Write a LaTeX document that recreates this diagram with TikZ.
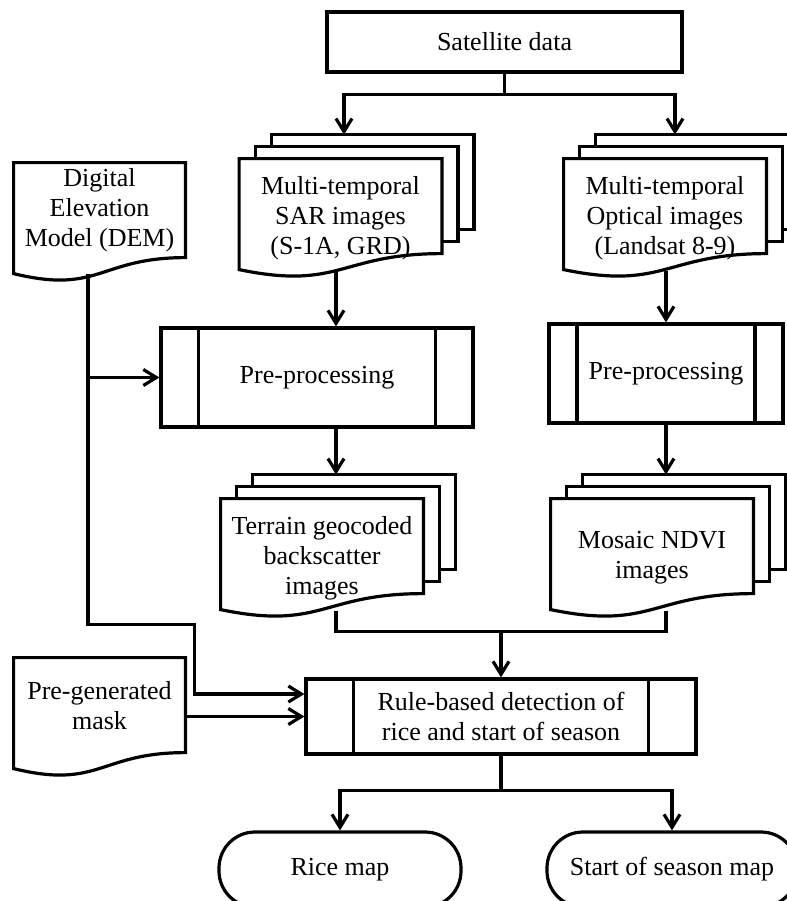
\documentclass[tikz,border=0pt]{standalone}
\usepackage{fontspec}
\setmainfont{Liberation Serif}
\usepackage{tikz}
\usetikzlibrary{arrows.meta,calc}
\tikzset{
    wire/.style={line width=1.6pt},
    plainbox/.style={draw, wire, inner sep=2pt, align=center},
    process/.style={plainbox, minimum height=49.5pt},
    docnode/.style={inner sep=2pt, align=center, minimum width=85.5pt, minimum height=47.5pt},
    stacknode/.style={inner sep=2pt, align=center, minimum width=101pt, minimum height=59pt},
    terminal/.style={plainbox, rounded corners=18pt, minimum height=37.5pt},
    flow/.style={wire, -{Straight Barb[length=6.5pt, width=8pt]}}
}
% document shape with a wavy lower edge
\newcommand{\wavyoutline}[1]{%
    \draw[wire] (#1.north west) -- (#1.north east) -- ($(#1.north east)+(0,95)$)
        .. controls ($(#1.north)+(0,95)$) and ($(#1.north)+(0,132)$) .. ($(#1.north west)+(0,111)$) -- cycle;}
% the two sheets behind a stack
\newcommand{\backsheets}[1]{%
    \draw[wire] ($(#1.north west)+(16,0)$) -- ++(0,-12) -- ($(#1.north east)+(16,-12)$) -- ($(#1.north east)+(16,83)$) -- ($(#1.north east)+(0,83)$);
    \draw[wire] ($(#1.north west)+(32,-12)$) -- ++(0,-12) -- ($(#1.north east)+(32,-24)$) -- ($(#1.north east)+(32,71)$) -- ($(#1.north east)+(16,71)$);}
% inner bars of a predefined process
\newcommand{\sidebars}[1]{%
    \draw[wire] ($(#1.north west)!0.125!(#1.north east)$) -- ($(#1.south west)!0.125!(#1.south east)$);
    \draw[wire] ($(#1.north east)!0.125!(#1.north west)$) -- ($(#1.south east)!0.125!(#1.south west)$);}

\begin{document}
\begin{tikzpicture}[x=0.5pt, y=-0.5pt, every node/.style={font=\fontsize{13}{15}\selectfont}]
                    \useasboundingbox (0,0) rectangle (787,901);
                    \clip (0,0) rectangle (787,901);

                    \node[plainbox, minimum width=177.5pt, minimum height=30pt] (sat) at (504.5,42) {Satellite data};
                    \node[stacknode] (sar) at (340.5,218) {Multi-temporal\\SAR images\\(S-1A, GRD)};
                    \node[stacknode] (opt) at (665,218) {Multi-temporal\\Optical images\\(Landsat 8-9)};
                    \node[docnode] (dem) at (99.5,210.5) {Digital\\Elevation\\Model (DEM)};
                    \node[process, minimum width=156pt] (pre1) at (317,377.5) {Pre-processing};
                    \node[process, minimum width=117pt] (pre2) at (666,373.5) {Pre-processing};
                    \node[stacknode] (geo) at (322,558) {Terrain geocoded\\backscatter\\images};
                    \node[stacknode] (ndvi) at (652,558) {Mosaic NDVI\\images};
                    \node[docnode] (mask) at (99.5,705.5) {Pre-generated\\mask};
                    \node[process, minimum width=195pt, minimum height=37.5pt] (rule) at (501,716.5) {Rule-based detection of\\rice and start of season};
                    \node[terminal, minimum width=121pt] (rice) at (340,869.5) {Rice map};
                    \node[terminal, minimum width=125pt] (season) at (672,869.5) {Start of season map};

                    \wavyoutline{dem}
                    \wavyoutline{mask}
                    \foreach \n in {sar,opt,geo,ndvi} {\wavyoutline{\n}\backsheets{\n}}
                    \foreach \n in {pre1,pre2,rule} {\sidebars{\n}}

                    \coordinate (sarout) at ($(sar.south)+(-4.5,-6)$);
                    \coordinate (optout) at ($(opt.south)+(1,-6)$);
                    \coordinate (geoout) at ($(geo.south)+(14,-6)$);
                    \coordinate (ndviout) at ($(ndvi.south)+(14,-6)$);
                    \coordinate (demout) at ($(dem.south)+(-11.5,16)$);
                    \coordinate (join) at ($(rule.north)+(0,-46)$);

                    \draw[flow] (sat.south) -- ++(0,21) -| ($(sar.north)+(3.5,-24)$);
                    \draw[flow] (sat.south) -- ++(0,21) -| ($(opt.north)+(10,-24)$);
                    \draw[flow] (sarout) -- (sarout |- pre1.north);
                    \draw[flow] (optout) -- (optout |- pre2.north);
                    \draw[flow] (pre1.south -| sarout) -- ($(geo.north)+(14,-24)$);
                    \draw[flow] (pre2.south -| optout) -- ($(ndvi.north)+(14,-24)$);
                    \draw[wire] (geoout) |- (join) -| (ndviout);
                    \draw[flow] (join) -- (rule.north);
                    \draw[flow] (demout) |- (pre1.west);
                    \draw[flow] (demout) -- ++(0,350) -| ($(rule.west)+(-110,-22.5)$) -- ($(rule.west)+(0,-22.5)$);
                    \draw[flow] (mask.east |- rule.west) -- (rule.west);
                    \draw[flow] (rule.south) -- ++(0,35) -| (rice.north);
                    \draw[flow] (rule.south) -- ++(0,35) -| (season.north);
                \end{tikzpicture}
\end{document}
